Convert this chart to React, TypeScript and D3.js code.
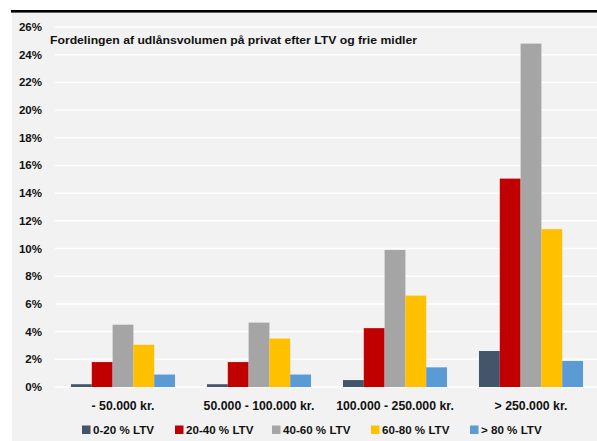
import React from "react";
import * as d3 from "d3";

const categories = ["- 50.000 kr.", "50.000 - 100.000 kr.", "100.000 - 250.000 kr.", "> 250.000 kr."];
const seriesNames = ["0-20 % LTV", "20-40 % LTV", "40-60 % LTV", "60-80 % LTV", "> 80 % LTV"];
const seriesColors = ["#44546a", "#c00000", "#a5a5a5", "#ffc000", "#5b9bd5"];
const ltv0_20 = [0.2, 0.2, 0.5, 2.6];
const ltv20_40 = [1.8, 1.8, 4.25, 15.05];
const ltv40_60 = [4.5, 4.65, 9.9, 24.8];
const ltv60_80 = [3.05, 3.5, 6.6, 11.4];
const ltv80 = [0.9, 0.9, 1.42, 1.88];
const yTicks = [0, 2, 4, 6, 8, 10, 12, 14, 16, 18, 20, 22, 24, 26];
const title = "Fordelingen af udlånsvolumen på privat efter LTV og frie midler";

const series = [ltv0_20, ltv20_40, ltv40_60, ltv60_80, ltv80];

const W = 597;
const H = 441;
const FONT = "'Liberation Sans', Arial, sans-serif";

export default function App() {
  const x0 = d3.scaleBand<string>().domain(categories).range([55, 599]).paddingInner(0.235).paddingOuter(0.1175);
  const x1 = d3.scaleBand<string>().domain(seriesNames).range([0, x0.bandwidth()]);
  const y = d3.scaleLinear().domain([0, 26]).range([387, 27]);

  const legendX = [82, 175, 272, 371, 470];

  return (
    <svg width={W} height={H} style={{ position: "absolute", left: 0, top: 0, display: "block" }} fontFamily={FONT}>
      <rect x={0} y={0} width={W} height={H} fill="#ffffff" />
      <rect x={12} y={12} width={W - 12} height={H - 12} fill="#f2f2f2" />
      <rect x={11} y={10} width={W - 11} height={2.6} fill="#000000" />
      {yTicks.map((t) => (
        <g key={t}>
          {t > 0 && <line x1={55} x2={W} y1={y(t)} y2={y(t)} stroke="#ffffff" strokeWidth={1.5} />}
          <text x={42} y={y(t) + 4} textAnchor="end" fontSize={11.5} fontWeight="bold" fill="#111111">
            {t}%
          </text>
        </g>
      ))}
      <line x1={55} x2={W} y1={y(0)} y2={y(0)} stroke="#ffffff" strokeWidth={1.5} />
      {categories.map((c, i) => (
        <g key={c} transform={`translate(${x0(c)},0)`}>
          {series.map((s, j) => (
            <rect
              key={j}
              x={x1(seriesNames[j])}
              y={y(s[i])}
              width={x1.bandwidth()}
              height={y(0) - y(s[i])}
              fill={seriesColors[j]}
            />
          ))}
        </g>
      ))}
      <text x={50} y={44} fontSize={11} fontWeight="bold" fill="#111111" textLength={367} lengthAdjust="spacingAndGlyphs">
        {title}
      </text>
      {categories.map((c) => (
        <text key={c} x={(x0(c) as number) + x0.bandwidth() / 2} y={410} textAnchor="middle" fontSize={12.3} fontWeight="bold" fill="#111111">
          {c}
        </text>
      ))}
      {seriesNames.map((n, j) => (
        <g key={n}>
          <rect x={legendX[j]} y={425.5} width={8.5} height={8.5} fill={seriesColors[j]} />
          <text x={legendX[j] + 11} y={434} fontSize={11.6} fontWeight="bold" fill="#111111">
            {n}
          </text>
        </g>
      ))}
    </svg>
  );
}
